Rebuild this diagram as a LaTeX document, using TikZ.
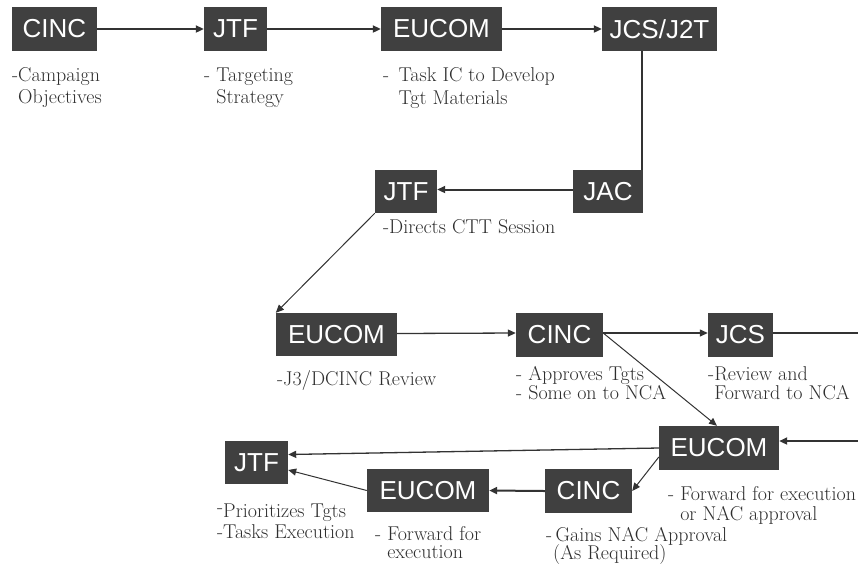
\documentclass[tikz,border=0pt]{standalone}
\usepackage{fontspec}
\newfontfamily\boxfont{Liberation Sans}
\usetikzlibrary{arrows.meta,calc}
\definecolor{boxgray}{HTML}{404040}
\definecolor{linegray}{HTML}{333333}
\definecolor{descgray}{HTML}{2E2E2E}
\newcommand{\descfont}[1]{\fontsize{20}{#1}\selectfont\lineskiplimit=-100pt\relax}
\tikzset{
  box/.style={fill=boxgray, text=white, font=\boxfont\fontsize{26}{26}\selectfont,
    minimum height=44pt, inner sep=0pt},
  desc/.style={text=descgray, font=\descfont{22}, align=left,
    anchor=base west, inner sep=0pt},
  tip/.style={-{Triangle[length=8pt,width=7pt]}},
  thickln/.style={draw=linegray, line width=2pt},
  thinln/.style={draw=linegray, line width=1pt},
}
\begin{document}
\begin{tikzpicture}[x=1pt,y=-1pt]
\useasboundingbox (0,0) rectangle (858,566);
% boxes
\node[box, minimum width=85pt] (cinc1) at (54.5,29) {CINC};
\node[box, minimum width=63pt] (jtf1) at (235.5,29) {JTF};
\node[box, minimum width=121pt] (eucom1) at (441.5,29) {EUCOM};
\node[box, minimum width=115pt] (jcs1) at (659.5,29) {JCS/J2T};
\node[box, minimum width=70pt, minimum height=43pt] (jac) at (608,191.5) {JAC};
\node[box, minimum width=62pt, minimum height=43pt] (jtf2) at (406,191.5) {JTF};
\node[box, minimum width=121pt, minimum height=43pt] (eucom2) at (336.5,334.5) {EUCOM};
\node[box, minimum width=87pt] (cinc2) at (559.5,335) {CINC};
\node[box, minimum width=65pt] (jcs2) at (740.5,335) {JCS};
\node[box, minimum width=120pt] (eucom3) at (719,448) {EUCOM};
\node[box, minimum width=87pt] (cinc3) at (588.5,491) {CINC};
\node[box, minimum width=122pt, minimum height=43pt] (eucom4) at (428,490.5) {EUCOM};
\node[box, minimum width=63pt, minimum height=43pt] (jtf3) at (256.5,462.5) {JTF};
% descriptions (anchor = baseline of the last line)
\node[desc] (d1) at (12,103) {-Campaign\\\phantom{-}Objectives};
\node[desc] (d2) at (204,103) {- Targeting\\\phantom{- }Strategy};
\node[desc, font=\descfont{23}] (d3) at (383,104) {- \,Task IC to Develop\\\phantom{- \,}Tgt Materials};
\node[desc] (d4) at (383,233) {-Directs CTT Session};
\node[desc] (d5) at (277,385) {-J3/DCINC Review};
\node[desc, font=\descfont{19}] (d6) at (516,399) {- Approves Tgts\\- Some on to NCA};
\node[desc, font=\descfont{19}] (d7) at (708,399) {-Review and\\\phantom{-}Forward to NCA};
\node[desc, font=\descfont{20}] (d8) at (668,520) {- Forward for execution\\\phantom{- }or NAC approval};
\node[desc, font=\descfont{18}] (d9) at (546,559) {-\,Gains NAC Approval\\\hspace{7pt}(As Required)};
\node[desc, font=\descfont{21}] (d10) at (217,538) {\raisebox{4pt}{-}Prioritizes Tgts\\-Tasks Execution};
\node[desc, font=\descfont{18}] (d11) at (375,558) {- Forward for\\\phantom{- }execution};
% free ends
\coordinate (rA) at (858,335);
\coordinate (rB) at (858,441);
% connectors
\draw[thickln, tip] (cinc1) -- (jtf1);
\draw[thickln, tip] (jtf1) -- (eucom1);
\draw[thickln, tip] (eucom1) -- (jcs1);
\draw[thickln] ([xshift=-1pt]jcs1.south -| jac.north east) -- ([xshift=-1pt]jac.north east);
\draw[thickln, tip] ([yshift=2pt]jac.west) -- ([yshift=2pt]jtf2.east);
\draw[thinln, tip] (jtf2.south west) -- (eucom2.north west);
\draw[thinln, line width=1.3pt, tip] ([yshift=1pt]eucom2.east) -- ([yshift=2pt]cinc2.west);
\draw[thinln, line width=1.3pt, tip] ([yshift=2pt]cinc2.east) -- ([yshift=2pt]jcs2.west);
\draw[thickln] ([yshift=2pt]jcs2.east) -- ([yshift=2pt]rA);
\draw[thinln, tip] ([yshift=2pt]cinc2.east) -- ([xshift=-2pt]eucom3.north);
\draw[thickln, tip] (rB) -- (rB -| eucom3.east);
\draw[thinln, line width=1.3pt, tip] (eucom3.west) -- ([yshift=8pt]jtf3.east);
\draw[thinln, tip] ([yshift=-9pt]eucom3.west) -- (cinc3.east);
\draw[thickln, tip] (cinc3.west) -- (eucom4.east);
\draw[thinln, tip] (eucom4.west) -- ([yshift=-7.5pt]jtf3.east);
\end{tikzpicture}
\end{document}
